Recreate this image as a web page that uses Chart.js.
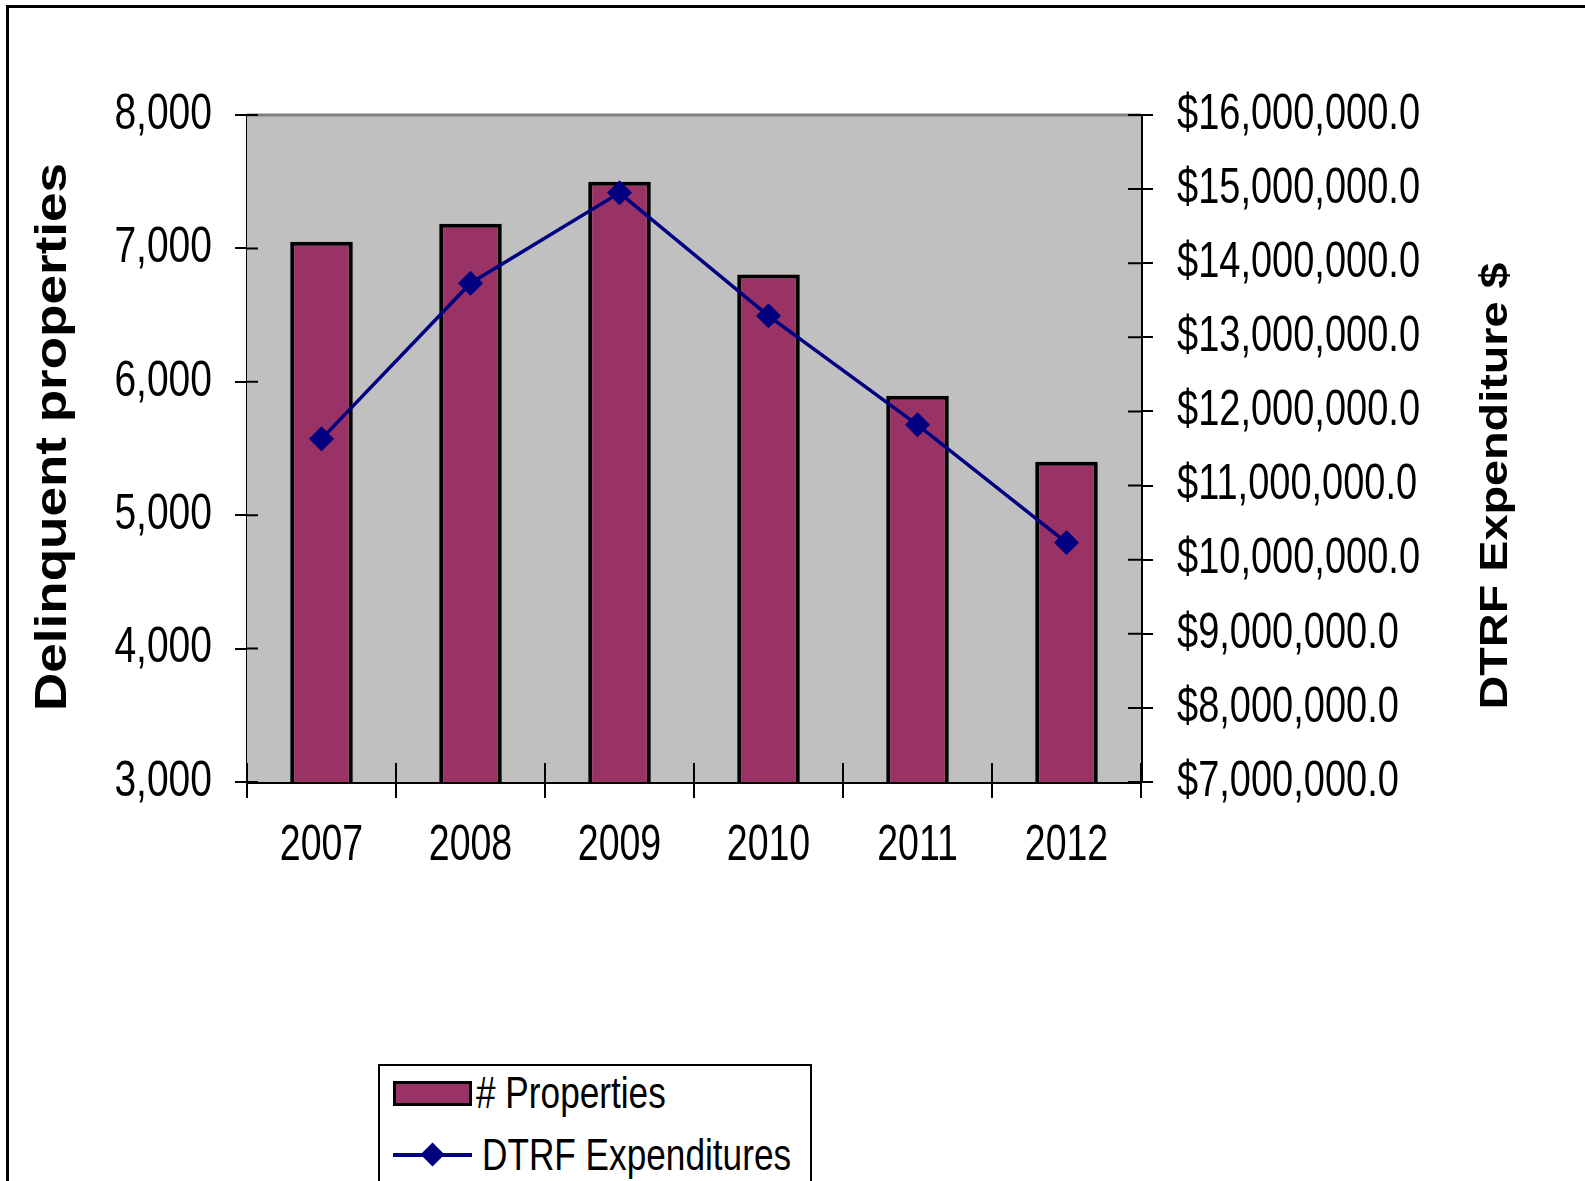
<!DOCTYPE html>
<html>
<head>
<meta charset="utf-8">
<title>Delinquent properties and DTRF expenditures</title>
<script src="https://cdn.jsdelivr.net/npm/chart.js@4.4.1/dist/chart.umd.min.js"></script>
<style>
  html, body { margin: 0; padding: 0; overflow: hidden; background: #fff; }
  #wrap { position: relative; width: 1585px; height: 1181px; }
  #frame {
    position: absolute; left: 6px; top: 5px; right: -20px; bottom: -20px;
    border-left: 3px solid #000; border-top: 3px solid #000; pointer-events: none;
  }
  #legend {
    position: absolute; left: 378px; top: 1064px; width: 434px; height: 200px;
    box-sizing: border-box; border: 2px solid #000; background: #fff;
    font-family: "Liberation Sans", Arial, sans-serif;
    font-size: 44px; color: #000;
  }
  .item { position: absolute; left: 13px; display: flex; align-items: center; white-space: nowrap; }
  .item .txt { display: inline-block; transform: scaleX(0.8); transform-origin: left center; }
  .box { width: 73px; height: 19px; border: 3px solid #000; margin-right: 4px; }
  .line { position: relative; width: 79px; height: 24px; margin-right: 10px; }
  .line::before { content: ""; position: absolute; left: 0; right: 0; top: 10px; height: 4px; background: var(--c); }
  .line span { position: absolute; left: 31px; top: 3px; width: 17px; height: 17px; background: var(--c); transform: rotate(45deg); }
</style>
</head>
<body>
<div id="wrap">
  <canvas id="chart"></canvas>
  <div id="frame"></div>
  <div id="legend"></div>
</div>
<script>
// chart data
const years = ["2007", "2008", "2009", "2010", "2011", "2012"];
const properties = [7050, 7185, 7500, 6805, 5895, 5400];
const expenditures = [11630000, 13730000, 14950000, 13290000, 11820000, 10230000];
const leftTicks = [3000, 8000, 1000];       // min, max, step
const rightTicks = [7000000, 16000000, 1000000];

const fmtLeft = (v) => v.toLocaleString("en-US");
const fmtRight = (v) => "$" + v.toLocaleString("en-US", { minimumFractionDigits: 1, maximumFractionDigits: 1 });

// the original uses a tall, condensed face; draw the labels squeezed horizontally
function squeezedText(ctx, text, x, y, align, size, sx) {
  ctx.save();
  ctx.font = size + 'px "Liberation Sans", Arial, sans-serif';
  ctx.fillStyle = "#000";
  ctx.textAlign = align;
  ctx.textBaseline = "middle";
  ctx.translate(x, y);
  ctx.scale(sx, 1);
  ctx.fillText(text, 0, 0);
  ctx.restore();
}

// grey plot area, inner halves of the crossing tick marks, labels and rotated axis titles
const plotDecor = {
  id: "plotDecor",
  beforeDatasetsDraw(chart) {
    const { ctx, chartArea: a, scales } = chart;
    ctx.save();
    ctx.fillStyle = "#c0c0c0";
    ctx.fillRect(a.left, a.top, a.right - a.left, a.bottom - a.top);
    ctx.strokeStyle = "#808080";
    ctx.lineWidth = 3;
    ctx.beginPath();
    ctx.moveTo(a.left, a.top);
    ctx.lineTo(a.right, a.top);
    ctx.stroke();

    ctx.strokeStyle = "#000";
    ctx.lineWidth = 2;
    ctx.beginPath();
    scales.y.ticks.forEach((t) => {
      const p = scales.y.getPixelForValue(t.value);
      ctx.moveTo(a.left, p);
      ctx.lineTo(a.left + 11, p);
    });
    scales.y1.ticks.forEach((t) => {
      const p = scales.y1.getPixelForValue(t.value);
      ctx.moveTo(a.right - 13, p);
      ctx.lineTo(a.right, p);
    });
    for (let i = 0; i <= years.length; i++) {
      const p = scales.x.getPixelForValue(i - 0.5);
      ctx.moveTo(p, a.bottom);
      ctx.lineTo(p, a.bottom - 19);
    }
    ctx.stroke();
    ctx.restore();
  },
  afterDraw(chart) {
    const { ctx, chartArea: a, scales } = chart;
    scales.y.ticks.forEach((t) => {
      squeezedText(ctx, fmtLeft(t.value), a.left - 35, scales.y.getPixelForValue(t.value), "right", 50, 0.78);
    });
    scales.y1.ticks.forEach((t) => {
      squeezedText(ctx, fmtRight(t.value), a.right + 36, scales.y1.getPixelForValue(t.value), "left", 50, 0.76);
    });
    years.forEach((y, i) => {
      squeezedText(ctx, y, scales.x.getPixelForValue(i), a.bottom + 64, "center", 50, 0.75);
    });

    const drawTitle = (text, cx, cy, size, length) => {
      ctx.save();
      ctx.font = "bold " + size + 'px "Liberation Sans", Arial, sans-serif';
      ctx.fillStyle = "#000";
      ctx.textAlign = "center";
      ctx.textBaseline = "middle";
      ctx.translate(cx, cy);
      ctx.rotate(-Math.PI / 2);
      ctx.scale(length / ctx.measureText(text).width, 1);
      ctx.fillText(text, 0, 0);
      ctx.restore();
    };
    drawTitle("Delinquent properties", 54, 437, 44, 548);
    drawTitle("DTRF Expenditure $", 1497, 486, 38, 447);
  },
};

const ctx = document.getElementById("chart").getContext("2d");

const chart = new Chart(ctx, {
  data: {
    labels: years,
    datasets: [
      {
        type: "line",
        label: "DTRF Expenditures",
        data: expenditures,
        yAxisID: "y1",
        order: 0,
        borderColor: "#000080",
        backgroundColor: "#000080",
        borderWidth: 3.5,
        tension: 0,
        pointStyle: "rectRot",
        pointRadius: 12,
        pointBackgroundColor: "#000080",
        pointBorderColor: "#000080",
        pointBorderWidth: 1,
      },
      {
        type: "bar",
        label: "# Properties",
        data: properties,
        yAxisID: "y",
        order: 1,
        backgroundColor: "#993366",
        borderColor: "#000",
        borderWidth: 4,
        barPercentage: 0.42,
        categoryPercentage: 1,
      },
    ],
  },
  options: {
    responsive: true,
    maintainAspectRatio: false,
    animation: false,
    events: [],
    layout: { padding: { top: 115, left: 0, right: 0, bottom: 0 } },
    plugins: {
      legend: { display: false },
      tooltip: { enabled: false },
    },
    scales: {
      x: {
        grid: { offset: true, drawOnChartArea: false, tickLength: 16, color: "#000", lineWidth: 2 },
        border: { color: "#000", width: 3 },
        ticks: { display: false },
        afterFit: (s) => { s.height = 399; },
      },
      y: {
        position: "left",
        min: leftTicks[0],
        max: leftTicks[1],
        grid: { drawOnChartArea: false, tickLength: 12, color: "#000", lineWidth: 2 },
        border: { color: "#000", width: 3 },
        ticks: { display: false, stepSize: leftTicks[2] },
        afterFit: (s) => { s.width = 247; },
      },
      y1: {
        position: "right",
        min: rightTicks[0],
        max: rightTicks[1],
        grid: { drawOnChartArea: false, tickLength: 12, color: "#000", lineWidth: 2 },
        border: { color: "#000", width: 3 },
        ticks: { display: false, stepSize: rightTicks[2] },
        afterFit: (s) => { s.width = 444; },
      },
    },
  },
  plugins: [plotDecor],
});
chart.resize(1585, 1181);

// legend built from the datasets, bars first like the original
const legend = document.getElementById("legend");
const barSet = chart.data.datasets[1];
const lineSet = chart.data.datasets[0];
legend.innerHTML =
  '<div class="item" style="top:2px"><div class="box" style="background:' + barSet.backgroundColor + '"></div><span class="txt">' + barSet.label + "</span></div>" +
  '<div class="item" style="top:64px"><div class="line" style="--c:' + lineSet.borderColor + '"><span></span></div><span class="txt">' + lineSet.label + "</span></div>";
</script>
</body>
</html>
